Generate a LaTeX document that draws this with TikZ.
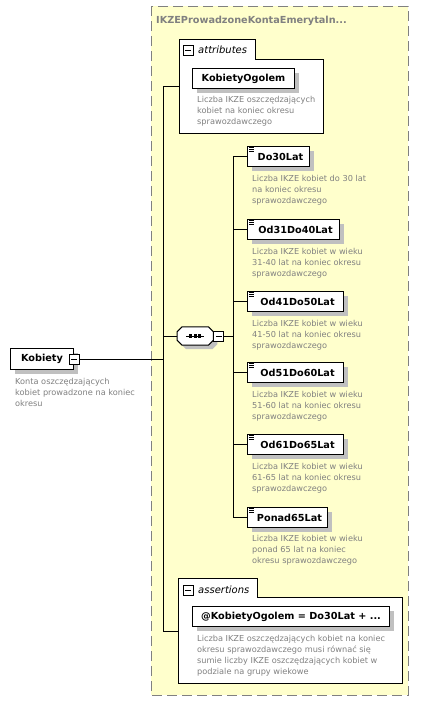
\documentclass[tikz,border=0pt]{standalone}
\usepackage{fontspec}
\setmainfont{DejaVu Sans}
\usetikzlibrary{shadows}
\definecolor{bgyel}{RGB}{255,255,204}
\definecolor{dgray}{RGB}{128,128,128}
\definecolor{sgray}{RGB}{192,192,192}
\definecolor{tgray}{RGB}{128,128,128}
\tikzset{
  elbox/.style={draw=black, line width=1pt, fill=white, inner sep=0, anchor=north west,
    minimum height=20pt, font=\fontsize{9.7}{11}\selectfont\bfseries,
    drop shadow={shadow xshift=4pt, shadow yshift=-4pt, fill=sgray, opacity=1}},
  desc/.style={anchor=north west, inner sep=0, align=left, text=tgray,
    font=\fontsize{8.2}{11}\selectfont},
  conn/.style={line width=1pt, draw=black},
  frame/.style={draw=black, line width=1pt, fill=white},
  minusbox/.style={draw=black, line width=0.8pt, fill=white, minimum size=10pt, inner sep=0,
    path picture={\draw[line width=0.8pt] ([xshift=2pt]path picture bounding box.west) -- ([xshift=-2pt]path picture bounding box.east);}},
  tablbl/.style={anchor=west, inner sep=0, font=\fontsize{10}{12}\selectfont\itshape},
  icon/.style={line width=0.7pt, draw=black},
}
\begin{document}
\begin{tikzpicture}[x=1pt,y=-1pt]
\useasboundingbox (0,0) rectangle (428,713);
\fill[white] (0,0) rectangle (428,713);

% group background
\draw[dgray, line width=1pt, dash pattern=on 10pt off 5pt, fill=bgyel] (151,6) rectangle (408,695);
\node[anchor=west, inner sep=0, text=dgray, font=\fontsize{9.7}{11}\selectfont\bfseries] (title) at (156,20.5) {IKZEProwadzoneKontaEmerytaln...};

% attributes frame
\draw[frame] (179,133) -- (179,39) -- (255,39) -- (255,59) -- (323,59) -- (323,133) -- cycle;
\node[minusbox] (attrm) at (188,50.5) {};
\node[tablbl] (attrl) at (198,50) {attributes};
\node[elbox, minimum width=102pt] (kog) at (192,68) {KobietyOgolem};
\node[desc] (kogd) at (197,96) {Liczba IKZE oszczędzających\\kobiet na koniec okresu\\sprawozdawczego};

% assertions frame
\draw[frame] (178,683) -- (178,578) -- (257,578) -- (257,597) -- (402,597) -- (402,683) -- cycle;
\node[minusbox] (asm) at (188,590.5) {};
\node[tablbl] (asl) at (198,589.5) {assertions};
\node[elbox, minimum width=197pt] (asrt) at (192,606) {@KobietyOgolem = Do30Lat + ...};
\node[desc] (asrtd) at (197,635) {Liczba IKZE oszczędzających kobiet na koniec\\okresu sprawozdawczego musi równać się\\sumie liczby IKZE oszczędzających kobiet w\\podziale na grupy wiekowe};

% root element
\node[elbox, minimum width=63pt, minimum height=21pt] (kob) at (10,348) {Kobiety};
\node[minusbox] (kobm) at (kob.east) {};
\node[desc] (kobd) at (15,378) {Konta oszczędzających\\kobiet prowadzone na koniec\\okresu};

% sequence compositor
\node[minimum width=36pt, minimum height=18pt, inner sep=0, anchor=west] (seq) at (177,336) {};
\fill[sgray] ([shift={(4pt,-4pt)}]seq.north west) ++(5pt,0) -- ([shift={(-1pt,-4pt)}]seq.north east)
  -- ([shift={(4pt,-9pt)}]seq.north east) -- ([shift={(4pt,1pt)}]seq.south east)
  -- ([shift={(-1pt,-4pt)}]seq.south east) -- ([shift={(9pt,-4pt)}]seq.south west)
  -- ([shift={(4pt,1pt)}]seq.south west) -- ([shift={(4pt,-9pt)}]seq.north west) -- cycle;
\draw[frame] ([xshift=5pt]seq.north west) -- ([xshift=-5pt]seq.north east)
  -- ([yshift=-5pt]seq.north east) -- ([yshift=5pt]seq.south east)
  -- ([xshift=-5pt]seq.south east) -- ([xshift=5pt]seq.south west)
  -- ([yshift=5pt]seq.south west) -- ([yshift=-5pt]seq.north west) -- cycle;
\draw[line width=1pt] ([xshift=-9pt]seq.center) -- ([xshift=9pt]seq.center);
\foreach \dx in {-4.5,0,4.5} \fill ([xshift=\dx pt]seq.center) +(-1.6pt,-1.6pt) rectangle +(1.6pt,1.6pt);
\node[minusbox, anchor=west] (seqm) at (seq.east) {};

% child elements
\node[elbox, minimum width=62pt] (do30) at (247,146) {\hspace*{4pt}Do30Lat};
\node[desc] (do30d) at (252,175) {Liczba IKZE kobiet do 30 lat\\na koniec okresu\\sprawozdawczego};
\node[elbox, minimum width=92pt] (od31) at (247,219) {\hspace*{4pt}Od31Do40Lat};
\node[desc] (od31d) at (252,248) {Liczba IKZE kobiet w wieku\\31-40 lat na koniec okresu\\sprawozdawczego};
\node[elbox, minimum width=96pt] (od41) at (247,291) {\hspace*{4pt}Od41Do50Lat};
\node[desc] (od41d) at (252,320) {Liczba IKZE kobiet w wieku\\41-50 lat na koniec okresu\\sprawozdawczego};
\node[elbox, minimum width=96pt] (od51) at (247,362) {\hspace*{4pt}Od51Do60Lat};
\node[desc] (od51d) at (252,391) {Liczba IKZE kobiet w wieku\\51-60 lat na koniec okresu\\sprawozdawczego};
\node[elbox, minimum width=96pt] (od61) at (247,434) {\hspace*{4pt}Od61Do65Lat};
\node[desc] (od61d) at (252,463) {Liczba IKZE kobiet w wieku\\61-65 lat na koniec okresu\\sprawozdawczego};
\node[elbox, minimum width=80pt] (ponad) at (247,507) {\hspace*{4pt}Ponad65Lat};
\node[desc] (ponadd) at (252,535) {Liczba IKZE kobiet w wieku\\ponad 65 lat na koniec\\okresu sprawozdawczego};

% icons on element boxes
\foreach \n in {do30,od31,od41,od51,od61,ponad}{
  \foreach \dy in {1.7,3.7,5.7}
    \draw[icon] ([shift={(2pt,-\dy pt)}]\n.north west) -- ++(5pt,0);
}

% connectors
\coordinate (attrC) at (179,86);
\coordinate (spT) at (163,86);
\coordinate (spB) at (163,631);
\coordinate (asrtC) at (178,631);
\coordinate (sp2) at (233,336);
\draw[conn] (attrC) -- (spT) -- (spB) -- (asrtC);
\draw[conn] (kobm.east) -- (kobm.east -| spT);
\draw[conn] (seq.west) -- (seq.west -| spT);
\draw[conn] (seqm.east) -- (seqm.east -| sp2);
\draw[conn] (do30.west -| sp2) -- (ponad.west -| sp2);
\foreach \n in {do30,od31,od41,od51,od61,ponad}
  \draw[conn] (\n.west) -- (\n.west -| sp2);
\end{tikzpicture}
\end{document}
